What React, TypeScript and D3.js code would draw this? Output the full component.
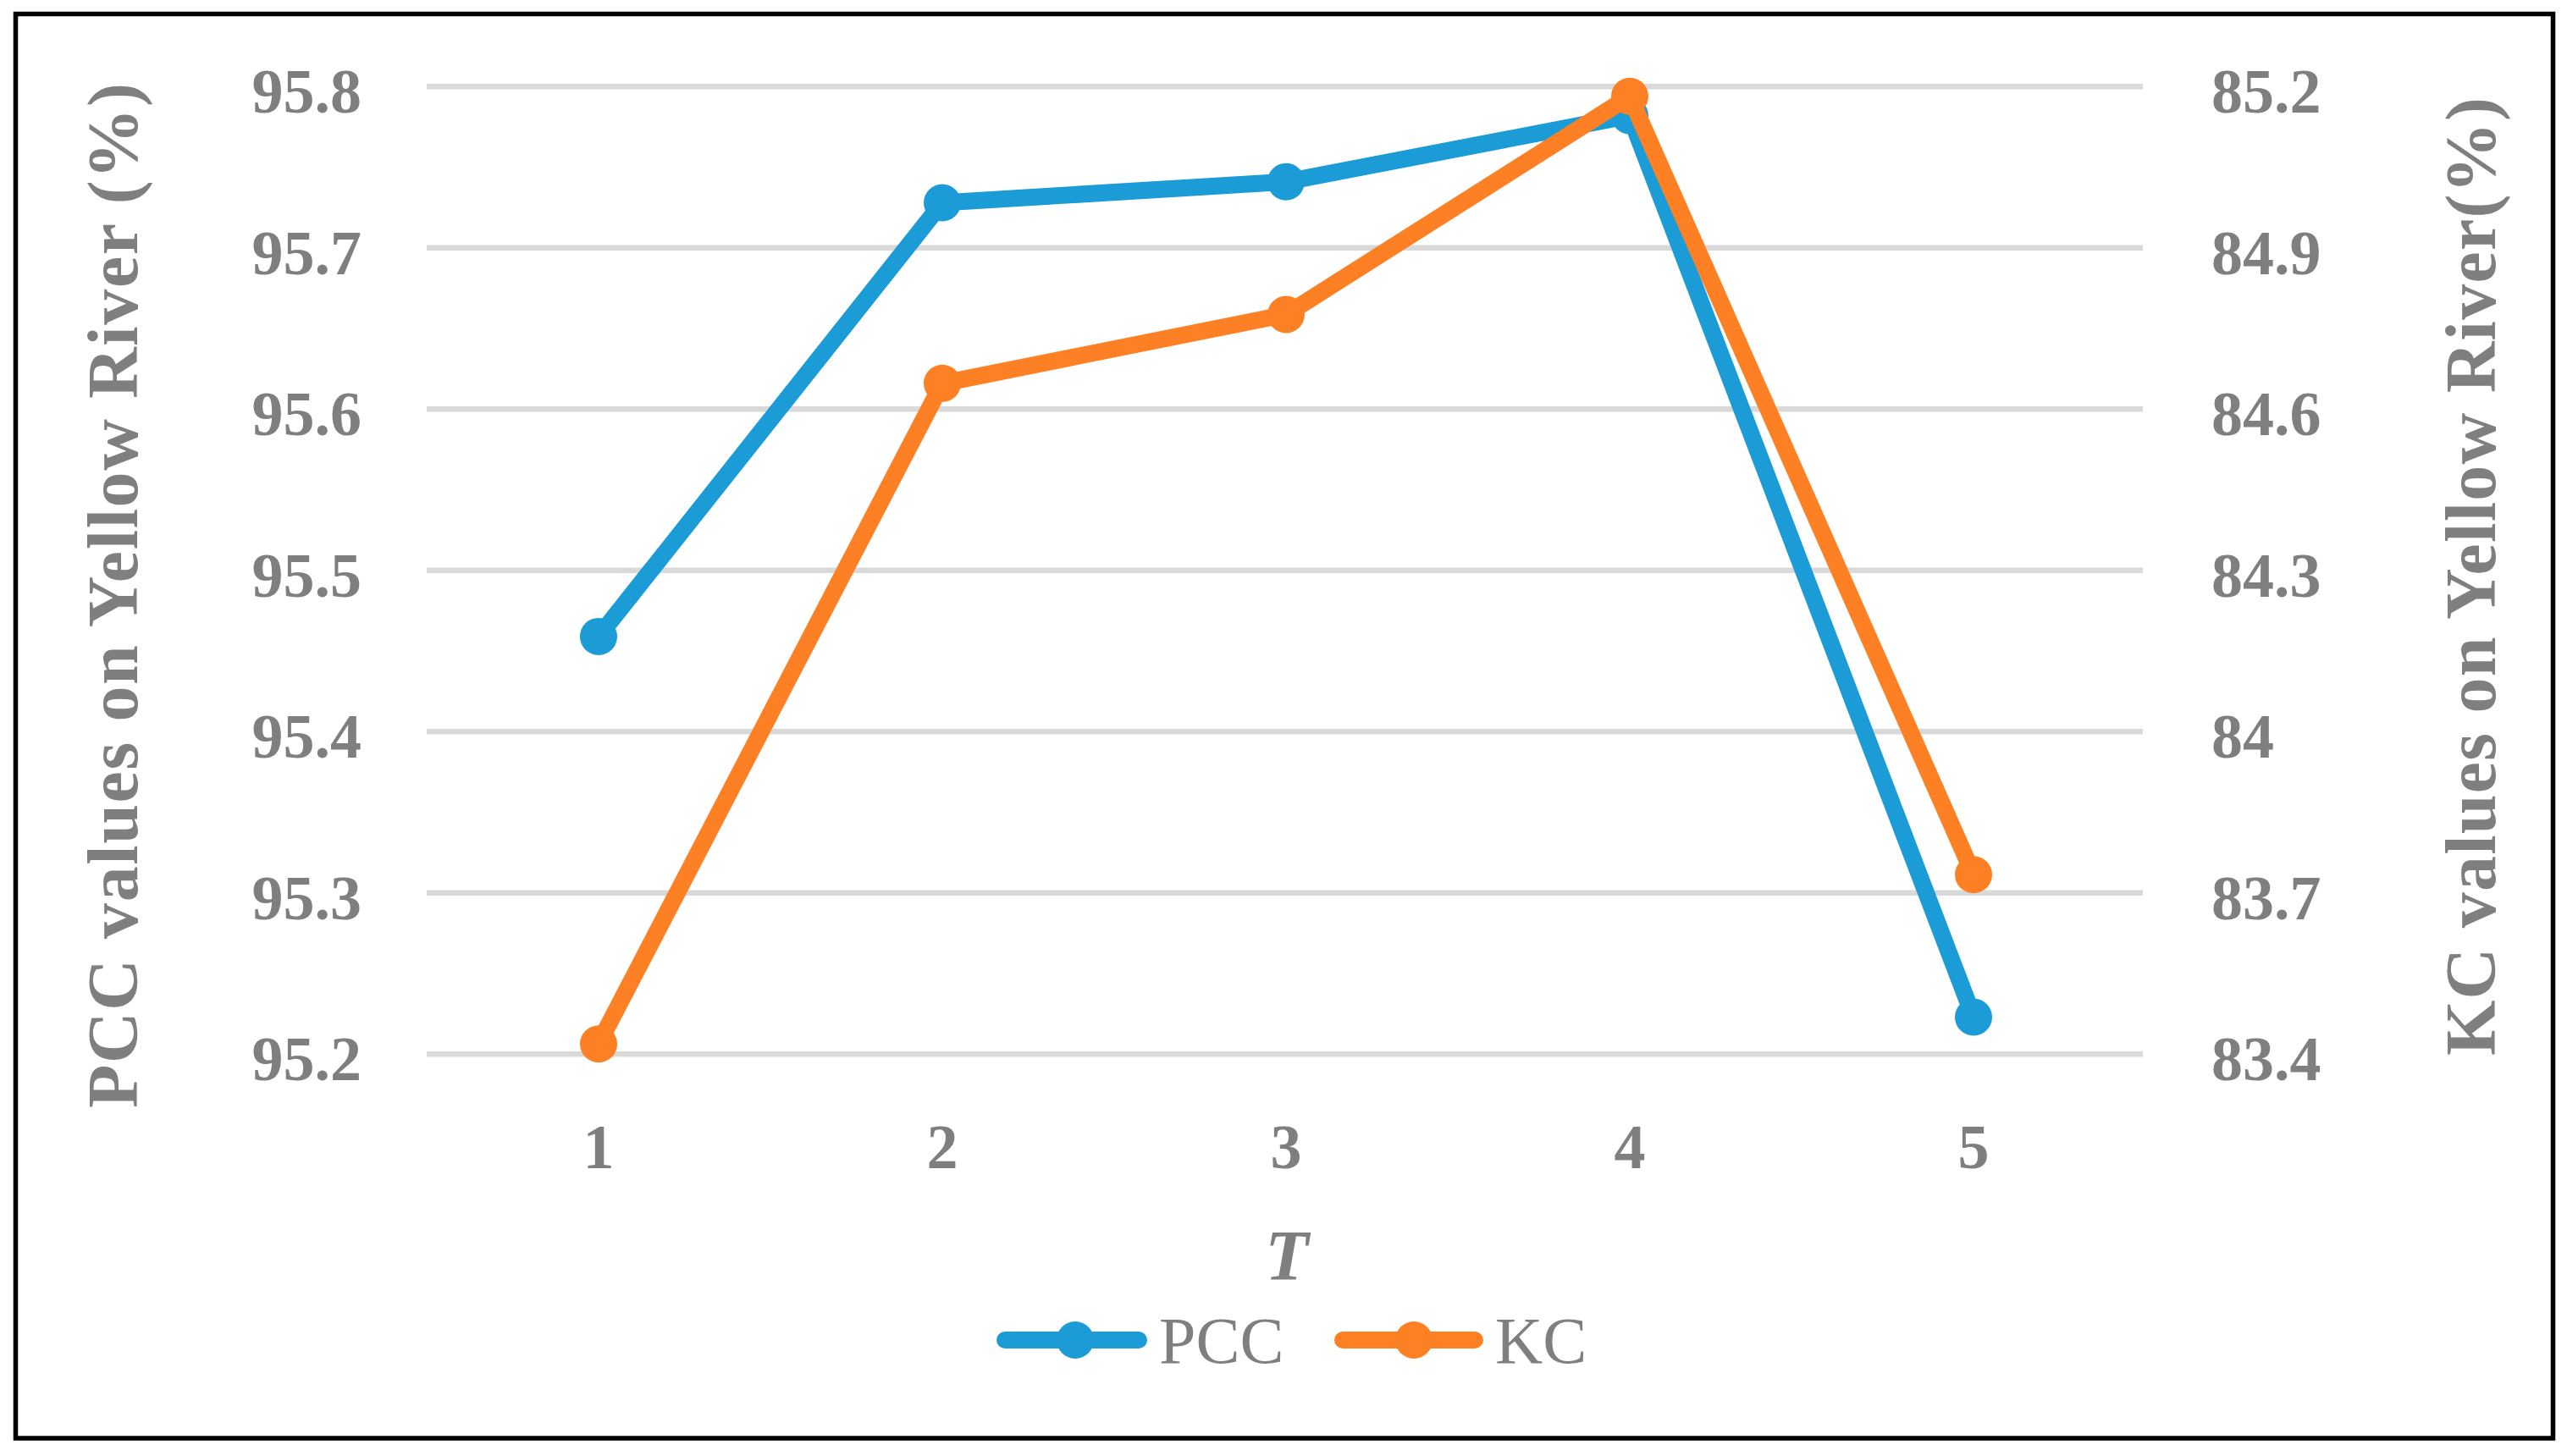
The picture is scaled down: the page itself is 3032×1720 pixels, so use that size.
import React from "react";
import * as d3 from "d3";

const categories = ["1", "2", "3", "4", "5"];
const pccValues = [95.459, 95.728, 95.741, 95.782, 95.223];
const kcValues = [83.419, 84.648, 84.776, 85.182, 83.734];
const leftTicks = [95.2, 95.3, 95.4, 95.5, 95.6, 95.7, 95.8];
const rightTicks = [83.4, 83.7, 84.0, 84.3, 84.6, 84.9, 85.2];
const rightTickLabels = ["83.4", "83.7", "84", "84.3", "84.6", "84.9", "85.2"];
const seriesNames = ["PCC", "KC"];

const W = 3032;
const H = 1720;
const BLUE = "#1B9CD7";
const ORANGE = "#FE8024";
const GRAY = "#7F7F7F";
const FONT = "'Liberation Serif', 'Times New Roman', serif";

export default function App() {
  const x = d3.scaleBand<string>().domain(categories).range([504, 2534]);
  const yL = d3.scaleLinear().domain([95.2, 95.8]).range([1245.3, 102.3]);
  const yR = d3.scaleLinear().domain([83.4, 85.2]).range([1245.3, 102.3]);
  const cx = (c: string) => (x(c) as number) + x.bandwidth() / 2;

  const linePcc = d3
    .line<number>()
    .x((_, i) => cx(categories[i]))
    .y((d) => yL(d));
  const lineKc = d3
    .line<number>()
    .x((_, i) => cx(categories[i]))
    .y((d) => yR(d));

  const legend = [
    { name: seriesNames[0], color: BLUE, x0: 1187, x1: 1345, mx: 1270, tx: 1369 },
    { name: seriesNames[1], color: ORANGE, x0: 1586, x1: 1742, mx: 1670, tx: 1766 },
  ];

  return (
    <svg
      width={W}
      height={H}
      viewBox={`0 0 ${W} ${H}`}
      style={{ position: "absolute", left: 0, top: 0, background: "#fff" }}
    >
      <rect x={0} y={0} width={W} height={H} fill="#fff" />
      <rect x={18.5} y={16.5} width={2997} height={1682.5} fill="none" stroke="#000" strokeWidth={5.5} />

      {/* gridlines */}
      {leftTicks.map((t) => (
        <line key={"g" + t} x1={504} x2={2531} y1={yL(t)} y2={yL(t)} stroke="#D9D9D9" strokeWidth={6.5} />
      ))}

      {/* left tick labels */}
      {leftTicks.map((t) => (
        <text
          key={"l" + t}
          x={427}
          y={yL(t) + 31}
          textAnchor="end"
          fontFamily={FONT}
          fontWeight="bold"
          fontSize={74}
          fill={GRAY}
        >
          {t.toFixed(1)}
        </text>
      ))}

      {/* right tick labels */}
      {rightTicks.map((t, i) => (
        <text
          key={"r" + t}
          x={2612}
          y={yR(t) + 31}
          textAnchor="start"
          fontFamily={FONT}
          fontWeight="bold"
          fontSize={74}
          fill={GRAY}
        >
          {rightTickLabels[i]}
        </text>
      ))}

      {/* x tick labels */}
      {categories.map((c) => (
        <text
          key={"x" + c}
          x={cx(c)}
          y={1380}
          textAnchor="middle"
          fontFamily={FONT}
          fontWeight="bold"
          fontSize={74}
          fill={GRAY}
        >
          {c}
        </text>
      ))}

      {/* axis titles */}
      <text
        transform="translate(162,703.5) rotate(-90)"
        textAnchor="middle"
        fontFamily={FONT}
        fontWeight="bold"
        fontSize={84}
        fill={GRAY}
        textLength={1211}
        lengthAdjust="spacing"
      >
        PCC values on Yellow River (%)
      </text>
      <text
        transform="translate(2947,681) rotate(-90)"
        textAnchor="middle"
        fontFamily={FONT}
        fontWeight="bold"
        fontSize={84}
        fill={GRAY}
        textLength={1132}
        lengthAdjust="spacing"
      >
        KC values on Yellow River(%)
      </text>
      <text
        x={1520}
        y={1512}
        textAnchor="middle"
        fontFamily={FONT}
        fontWeight="bold"
        fontStyle="italic"
        fontSize={84}
        fill={GRAY}
      >
        T
      </text>

      {/* series */}
      <path
        d={linePcc(pccValues) || ""}
        fill="none"
        stroke={BLUE}
        strokeWidth={20}
        strokeLinecap="round"
        strokeLinejoin="round"
      />
      {pccValues.map((v, i) => (
        <circle key={"pm" + i} cx={cx(categories[i])} cy={yL(v)} r={22} fill={BLUE} />
      ))}
      <path
        d={lineKc(kcValues) || ""}
        fill="none"
        stroke={ORANGE}
        strokeWidth={20}
        strokeLinecap="round"
        strokeLinejoin="round"
      />
      {kcValues.map((v, i) => (
        <circle key={"km" + i} cx={cx(categories[i])} cy={yR(v)} r={22} fill={ORANGE} />
      ))}

      {/* legend */}
      {legend.map((l) => (
        <g key={l.name}>
          <line x1={l.x0} x2={l.x1} y1={1583} y2={1583} stroke={l.color} strokeWidth={20} strokeLinecap="round" />
          <circle cx={l.mx} cy={1583} r={22} fill={l.color} />
          <text x={l.tx} y={1610} fontFamily={FONT} fontSize={78} fill={GRAY}>
            {l.name}
          </text>
        </g>
      ))}
    </svg>
  );
}
